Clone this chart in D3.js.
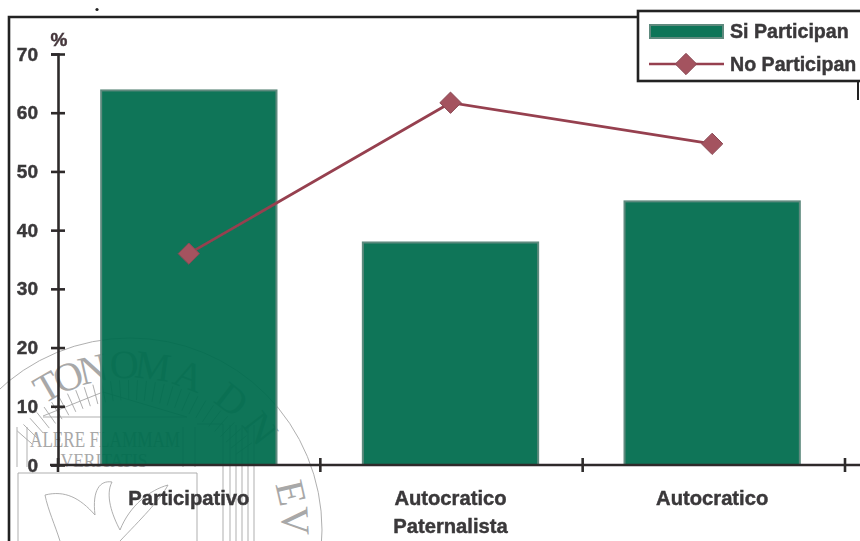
<!DOCTYPE html>
<html><head><meta charset="utf-8">
<script src="https://cdn.jsdelivr.net/npm/d3@7"></script>
<style>
html,body{margin:0;padding:0;background:#fff}
svg{display:block}
text{font-family:"Liberation Sans",Arial,sans-serif;font-weight:700}
</style></head><body>
<svg id="c" width="860" height="541"></svg>
<script>
const categories=[["Participativo"],["Autocratico","Paternalista"],["Autocratico"]];
const categoryKeys=["Participativo","Autocratico Paternalista","Autocratico"];
const siParticipan=[63.8,37.9,44.9];
const noParticipan=[36,61.7,54.7];
const yTicks=[0,10,20,30,40,50,60,70];
const legendLabels=["Si Participan","No Participan"];
const sealLetters=["T","O","N","O","M","A","D","N","E","V"];
const sealAngles=[-30,-22,-13,-2,8,21,38,52,77,87];

const svg=d3.select("#c");
const ink="#2e2a2c", green="#006c4e", edge="#5f8a7e", wine="#96404f", textInk="#3a383a";
const defs=svg.append("defs");
defs.append("filter").attr("id","soft").append("feGaussianBlur").attr("stdDeviation",0.45);
const y=d3.scaleLinear().domain([0,70]).range([465,54]);
const x=d3.scaleBand().domain(categoryKeys).range([58,843]).paddingInner(0.33).paddingOuter(0.165);
const tickX=d3.scaleLinear().domain([0,3]).range([58,845]);

// watermark seal (under the chart, showing faintly through the bars)
const seal=svg.append("g").attr("fill","none").attr("stroke","#a6a6a6").attr("stroke-width",0.9);
const serif=s=>s.attr("fill","#a8a8a8").attr("stroke","none").style("font-family",'"Liberation Serif",serif').style("font-weight",400);
const cx0=130, cy0=530;
const polar=(deg,r)=>[cx0+r*Math.sin(deg*Math.PI/180),cy0-r*Math.cos(deg*Math.PI/180)];
seal.append("circle").attr("cx",cx0).attr("cy",cy0).attr("r",192);
sealLetters.forEach((ch,i)=>{
  const [px,py]=polar(sealAngles[i],152);
  serif(seal.append("text")).attr("x",px).attr("y",py).attr("text-anchor","middle")
   .attr("transform",`rotate(${sealAngles[i]},${px},${py})`)
   .style("font-size","40px").text(ch);
});
serif(seal.append("text")).attr("x",105).attr("y",447).attr("text-anchor","middle").attr("textLength",150).attr("lengthAdjust","spacingAndGlyphs").style("font-size","23px").text("ALERE FLAMMAM");
serif(seal.append("text")).attr("x",104).attr("y",467).attr("text-anchor","middle").attr("textLength",87).attr("lengthAdjust","spacingAndGlyphs").style("font-size","18px").text("VERITATIS");
d3.range(-0.85,1.0,0.06).forEach(a=>{
  const deg=a*180/Math.PI,[x1,y1]=polar(deg,130),[x2,y2]=polar(deg,150);
  seal.append("line").attr("x1",x1).attr("y1",y1).attr("x2",x2).attr("y2",y2);
});
seal.append("path").attr("d","M18,541V473H197V541M43,416L103,392L187,417H43M197,424H223V541M17,427V467M27,427V467M183,427V467M195,427V467");
d3.range(230,258,6).forEach(px=>seal.append("line").attr("x1",px).attr("x2",px).attr("y1",425).attr("y2",541));
seal.append("path").attr("d","M45,495C65,490 80,498 95,515C92,490 100,480 112,482C105,495 112,515 120,530C130,505 150,490 168,485C160,500 140,520 120,541M60,541C55,525 48,510 45,495");

const root=svg.append("g").attr("filter","url(#soft)");

// outer frame
root.append("path").attr("d","M9,541V17H640").attr("fill","none").attr("stroke","#222").attr("stroke-width",2.6);
root.append("path").attr("d","M858,81V100").attr("fill","none").attr("stroke","#222").attr("stroke-width",2);
root.append("circle").attr("cx",97).attr("cy",9.5).attr("r",1.6).attr("fill","#222");

// bars
root.selectAll("rect.bar").data(siParticipan).join("rect").attr("class","bar")
 .attr("x",(d,i)=>x(categoryKeys[i])).attr("width",x.bandwidth())
 .attr("y",d=>y(d)).attr("height",d=>y(0)-y(d))
 .attr("fill",green).attr("fill-opacity",0.94).attr("stroke",edge).attr("stroke-width",2);

// axes
const axY=root.append("g").attr("transform","translate(58,0)").call(d3.axisLeft(y).tickValues(yTicks).tickSize(7).tickPadding(13));
axY.selectAll("line").clone().attr("x2",7);
const axX=root.append("g").attr("transform","translate(0,465)").call(d3.axisBottom(x).tickValues([]).tickSizeOuter(0));
d3.range(4).forEach(i=>{
  const px=tickX(i);
  root.append("line").attr("x1",px).attr("x2",px).attr("y1",458).attr("y2",472);
});
root.selectAll("line").attr("stroke",ink).attr("stroke-width",2.6);
root.selectAll(".domain").attr("stroke",ink).attr("stroke-width",2.6);
axX.select(".domain").attr("d","M50,0H860");
const boldText=s=>s.attr("fill",textInk).attr("stroke",textInk).attr("stroke-width",0.45);
boldText(axY.selectAll("text")).style("font-size","19px").style("font-family",'"Liberation Sans",Arial,sans-serif').style("font-weight",700);
boldText(root.append("text")).attr("x",59).attr("y",46).attr("text-anchor","middle").attr("fill","#4a343b").style("font-size","19px").text("%");

// category labels
categories.forEach((lines,i)=>{
  const cx=x(categoryKeys[i])+x.bandwidth()/2;
  lines.forEach((t,j)=>boldText(root.append("text")).attr("x",cx).attr("y",505+j*28).attr("text-anchor","middle").style("font-size","20.2px").text(t));
});

// line series
const cxOf=i=>x(categoryKeys[i])+x.bandwidth()/2;
const line=d3.line().x((d,i)=>cxOf(i)).y(d=>y(d));
root.append("path").attr("d",line(noParticipan)).attr("fill","none").attr("stroke",wine).attr("stroke-width",2.8);
const dia=d3.symbol().type(d3.symbolDiamond2).size(290);
root.selectAll("path.pt").data(noParticipan).join("path").attr("class","pt")
 .attr("d",dia).attr("transform",(d,i)=>`translate(${cxOf(i)},${y(d)})`).attr("fill","#a4525f").attr("stroke","#8a4a55");

// legend
const lg=root.append("g");
lg.append("rect").attr("x",638).attr("y",11).attr("width",224).attr("height",70).attr("fill","#fff").attr("stroke","#222").attr("stroke-width",2.6);
lg.append("rect").attr("x",650).attr("y",25).attr("width",73).attr("height",13).attr("fill",green).attr("fill-opacity",0.94).attr("stroke",edge).attr("stroke-width",2);
lg.append("line").attr("x1",649).attr("x2",724).attr("y1",64).attr("y2",64).attr("stroke",wine).attr("stroke-width",2.4);
lg.append("path").attr("d",dia).attr("transform","translate(686,64)").attr("fill","#a4525f").attr("stroke","#8a4a55");
legendLabels.forEach((t,i)=>boldText(lg.append("text")).attr("x",730).attr("y",38+i*33).style("font-size","19.6px").text(t));
</script>
</body></html>
